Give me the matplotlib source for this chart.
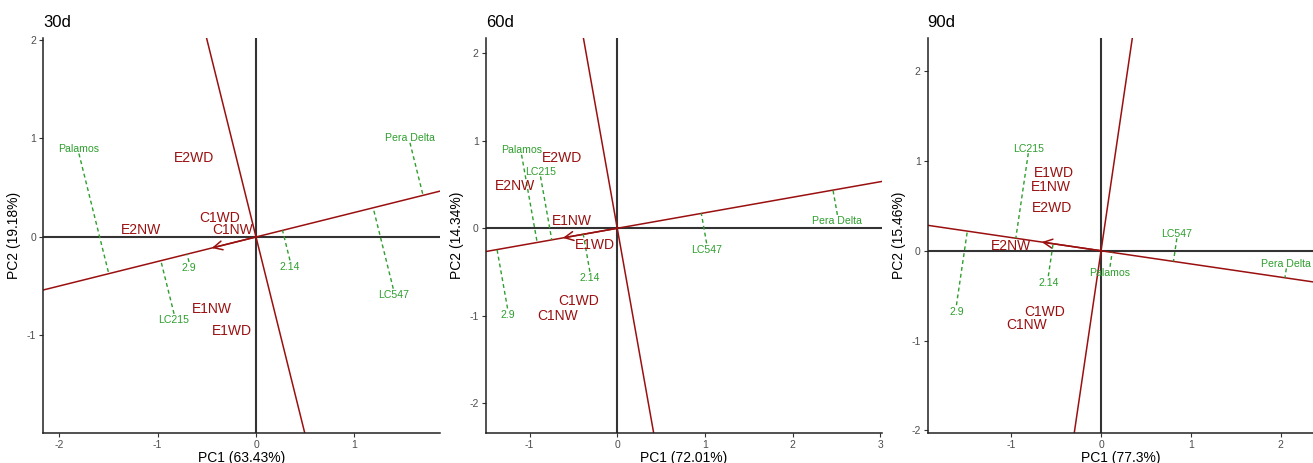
import matplotlib
matplotlib.use('Agg')
import matplotlib.pyplot as plt
from matplotlib.ticker import MultipleLocator

plt.rcParams['font.family'] = ['Liberation Sans', 'DejaVu Sans']
plt.rcParams['axes.unicode_minus'] = False

# genotype / environment names (same order in every panel)
genotypes = ['Palamos', 'Pera Delta', 'LC547', '2.14', '2.9', 'LC215']
environments = ['E2WD', 'C1WD', 'C1NW', 'E2NW', 'E1NW', 'E1WD']
titles = ['30d', '60d', '90d']
pc1_var = ['63.43', '72.01', '77.3']
pc2_var = ['19.18', '14.34', '15.46']

# 30d
gen_x_30 = [-1.80, 1.565, 1.395, 0.345, -0.681, -0.833]
gen_y_30 = [0.847, 0.956, -0.525, -0.237, -0.254, -0.780]
env_x_30 = [-0.630, -0.372, -0.237, -1.168, -0.447, -0.244]
env_y_30 = [0.797, 0.193, 0.068, 0.075, -0.736, -0.959]
mean_env_30 = (-0.45, -0.112)

# 60d
gen_x_60 = [-1.091, 2.51, 1.019, -0.312, -1.251, -0.875]
gen_y_60 = [0.840, 0.153, -0.172, -0.496, -0.916, 0.592]
env_x_60 = [-0.635, -0.437, -0.684, -1.167, -0.513, -0.255]
env_y_60 = [0.802, -0.828, -1.004, 0.485, 0.084, -0.191]
mean_env_60 = (-0.62, -0.11)

# 90d
gen_x_90 = [0.100, 2.063, 0.844, -0.587, -1.61, -0.810]
gen_y_90 = [-0.178, -0.197, 0.138, -0.283, -0.606, 1.086]
env_x_90 = [-0.543, -0.625, -0.829, -1.004, -0.561, -0.520]
env_y_90 = [0.480, -0.680, -0.829, 0.056, 0.714, 0.870]
mean_env_90 = (-0.66, 0.097)

panels = [
    (gen_x_30, gen_y_30, env_x_30, env_y_30, mean_env_30),
    (gen_x_60, gen_y_60, env_x_60, env_y_60, mean_env_60),
    (gen_x_90, gen_y_90, env_x_90, env_y_90, mean_env_90),
]

RED = '#9A1010'
GREEN = '#2E9E2E'
W, H = 1313, 463
boxes = [(43, 440), (485.7, 881.7), (927.7, 1313)]
xlims = [(-2.165, 1.87), (-1.50, 3.015), (-1.93, 2.36)]
ylims = [(-1.99, 2.02), (-2.34, 2.175), (-2.03, 2.37)]
top, bottom = 38, 433

fig = plt.figure(figsize=(W / 100, H / 100), dpi=100)

for i, (gx, gy, ex, ey, mean_env) in enumerate(panels):
    l, r = boxes[i]
    ax = fig.add_axes([l / W, (H - bottom) / H, (r - l) / W, (bottom - top) / H])
    ax.set_xlim(*xlims[i])
    ax.set_ylim(*ylims[i])

    ax.axhline(0, color='#333333', lw=1.5, zorder=1)
    ax.axvline(0, color='#333333', lw=1.5, zorder=1)

    s = mean_env[1] / mean_env[0]
    ax.axline((0, 0), slope=s, color=RED, lw=1.1, zorder=2)
    ax.axline((0, 0), slope=-1 / s, color=RED, lw=1.1, zorder=2)
    ax.annotate('', xy=mean_env, xytext=(0, 0),
                arrowprops=dict(arrowstyle='->', color=RED, lw=1.1,
                                mutation_scale=16, shrinkA=0, shrinkB=0),
                zorder=3)

    for name, x, y in zip(genotypes, gx, gy):
        t = (x + s * y) / (1 + s * s)
        ax.plot([x, t], [y, s * t], color=GREEN, lw=1.0,
                dashes=(2.8, 2.2), zorder=3)
        if y > s * x:
            ax.annotate(name, (x, y), xytext=(0, 1), textcoords='offset points',
                        ha='center', va='baseline', color=GREEN, fontsize=7.6,
                        zorder=4)
        else:
            ax.annotate(name, (x, y), xytext=(0, -1), textcoords='offset points',
                        ha='center', va='top', color=GREEN, fontsize=7.6,
                        zorder=4)

    for name, x, y in zip(environments, ex, ey):
        ax.text(x, y, name, ha='center', va='center', color=RED,
                fontsize=10, zorder=4)

    ax.xaxis.set_major_locator(MultipleLocator(1))
    ax.yaxis.set_major_locator(MultipleLocator(1))
    for side in ['top', 'right']:
        ax.spines[side].set_visible(False)
    for side in ['left', 'bottom']:
        ax.spines[side].set_color('#222222')
        ax.spines[side].set_linewidth(1.1)
    ax.tick_params(direction='out', length=3, width=0.8, color='#333333',
                   labelsize=7.5, labelcolor='#4D4D4D', pad=2)
    ax.set_xlabel(f'PC1 ({pc1_var[i]}%)', fontsize=10, labelpad=0.5)
    ax.set_ylabel(f'PC2 ({pc2_var[i]}%)', fontsize=10, labelpad=4)
    ax.set_title(titles[i], loc='left', fontsize=12, pad=8)

fig.savefig('out.png', dpi=100)
